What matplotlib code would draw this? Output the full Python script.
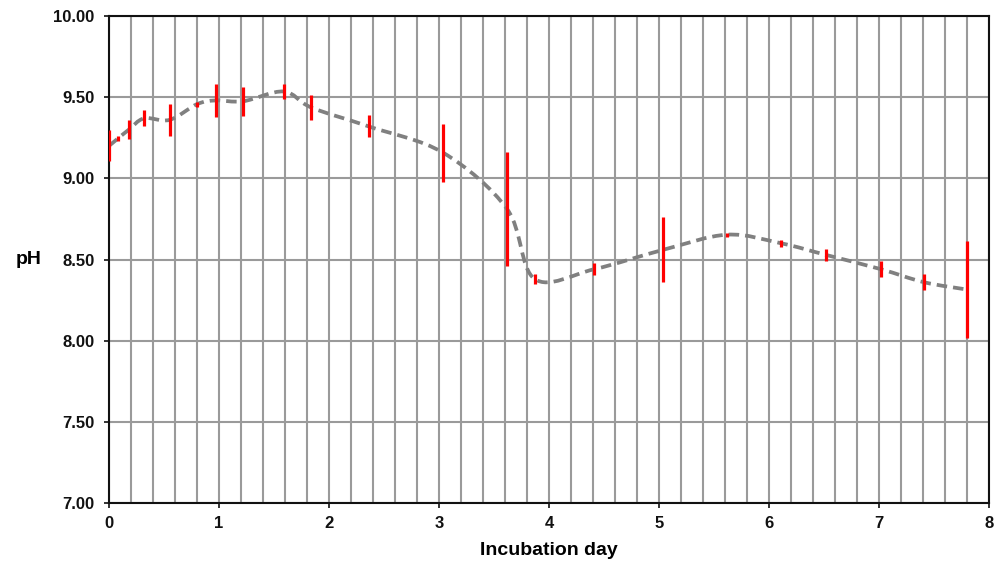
import numpy as np
import matplotlib
matplotlib.use('Agg')
import matplotlib.pyplot as plt
from matplotlib.path import Path
from matplotlib.patches import PathPatch

# incubation day, mean pH and error (half range)
days = [0.0, 0.08, 0.18, 0.32, 0.55, 0.80, 0.97, 1.22, 1.59, 1.84, 2.36,
        3.04, 3.62, 3.87, 4.41, 5.04, 5.62, 6.11, 6.52, 7.02, 7.41, 7.80]
ph = [9.20, 9.245, 9.30, 9.37, 9.36, 9.457, 9.48, 9.475, 9.535, 9.436, 9.32,
      9.157, 8.81, 8.38, 8.44, 8.56, 8.653, 8.60, 8.528, 8.44, 8.36, 8.315]
ph_err = [0.095, 0.015, 0.06, 0.05, 0.10, 0.015, 0.10, 0.09, 0.047, 0.077, 0.068,
          0.178, 0.35, 0.033, 0.036, 0.20, 0.013, 0.02, 0.037, 0.05, 0.05, 0.30]

x_ticks = [0, 1, 2, 3, 4, 5, 6, 7, 8]
y_ticks = [7.0, 7.5, 8.0, 8.5, 9.0, 9.5, 10.0]


def smooth_path(xs, ys):
    # excel-like smoothed line: catmull-rom turned into cubic bezier segments
    pts = np.column_stack([xs, ys])
    n = len(pts)
    verts = [pts[0]]
    codes = [Path.MOVETO]
    for i in range(n - 1):
        p0 = pts[max(i - 1, 0)]
        p1 = pts[i]
        p2 = pts[i + 1]
        p3 = pts[min(i + 2, n - 1)]
        c1 = p1 + (p2 - p0) / 6.0
        c2 = p2 - (p3 - p1) / 6.0
        verts += [c1, c2, p2]
        codes += [Path.CURVE4] * 3
    return Path(verts, codes)


def main():
    plt.rcParams['font.family'] = ['Liberation Sans', 'DejaVu Sans']
    fig = plt.figure(figsize=(10.05, 5.62), dpi=100)
    ax = fig.add_axes([0.1085, 0.105, 0.8755, 0.8665])

    ax.set_xlim(0, 8)
    ax.set_ylim(7, 10)

    # grid: every 0.2 day and every 0.5 pH
    ax.set_xticks(np.arange(0, 8.01, 0.2), minor=True)
    ax.set_xticks(x_ticks)
    ax.set_yticks(y_ticks)
    ax.grid(True, which='both', axis='x', color='#9a9a9a', lw=1.5, zorder=0)
    ax.grid(True, which='major', axis='y', color='#9a9a9a', lw=1.5, zorder=0)
    ax.set_axisbelow(True)

    patch = PathPatch(smooth_path(days, ph), fill=False, edgecolor='#808080',
                      lw=2.7, linestyle=(0, (2.8, 1.6)), zorder=3)
    ax.add_patch(patch)

    ax.errorbar(days, ph, yerr=ph_err, fmt='none', ecolor='#ff0000',
                elinewidth=2.3, capsize=0, zorder=4)

    ax.set_xticklabels([str(t) for t in x_ticks])
    ax.set_yticklabels(['%.2f' % t for t in y_ticks])
    ax.tick_params(axis='both', which='major', direction='out', length=3.5,
                   width=1.2, labelsize=12, colors='#111111')
    ax.tick_params(axis='y', pad=7)
    ax.tick_params(axis='x', pad=6)
    ax.tick_params(axis='x', which='minor', length=0)
    for lab in ax.get_xticklabels() + ax.get_yticklabels():
        lab.set_fontweight('bold')

    for sp in ax.spines.values():
        sp.set_color('#111111')
        sp.set_linewidth(1.5)

    ax.set_xlabel('Incubation day', fontsize=14, fontweight='bold', labelpad=8)
    ax.set_ylabel('pH', fontsize=14, fontweight='bold', rotation=0, labelpad=18,
                  va='center')

    fig.savefig('out.png', dpi=100, facecolor='white')


if __name__ == '__main__':
    main()
